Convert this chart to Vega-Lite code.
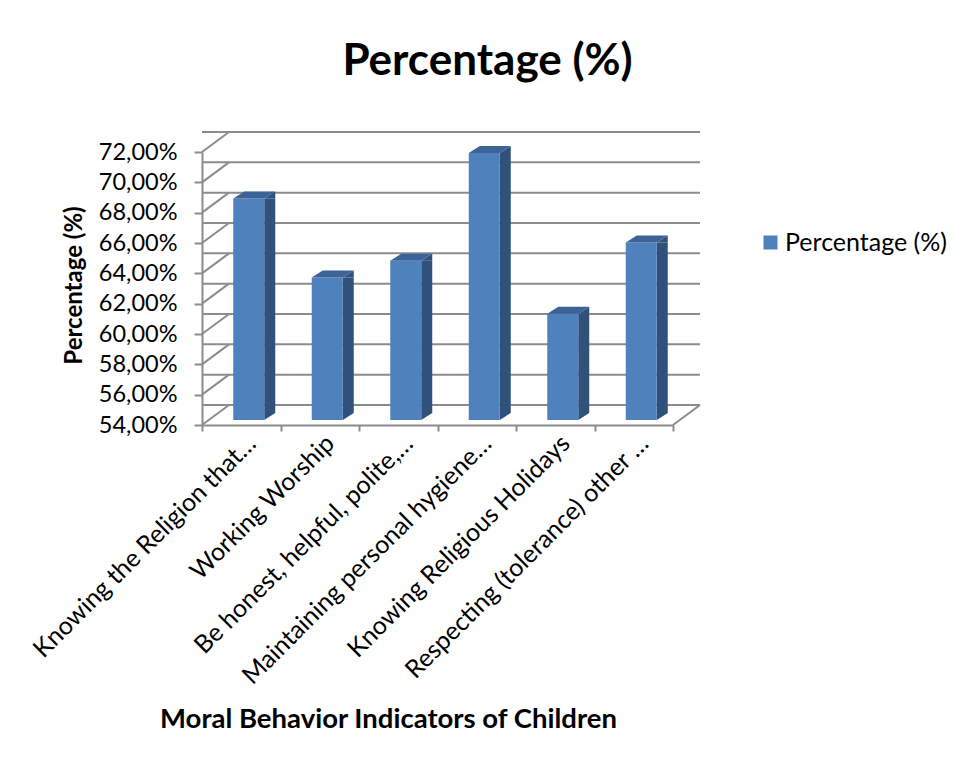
{
  "$schema": "https://vega.github.io/schema/vega-lite/v6.json",
  "autosize": "none",
  "width": 471,
  "height": 273,
  "padding": {"left": 202, "top": 152, "right": 284, "bottom": 342},
  "background": "white",
  "config": {
    "font": "Lato",
    "view": {"stroke": null},
    "axis": {"labelFont": "Lato", "titleFont": "Lato", "labelColor": "#000000", "titleColor": "#000000"},
    "axisY": {"tickCount": 10, "labelOverlap": false}
  },
  "title": {
    "text": "Percentage (%)",
    "font": "Lato",
    "fontSize": 44,
    "fontWeight": "bold",
    "color": "#000000",
    "anchor": "middle",
    "frame": "group",
    "dx": 50,
    "baseline": "alphabetic",
    "offset": 12
  },
  "datasets": {
    "scores": [
      {"indicator": "Knowing the Religion that…", "pct": 0.686},
      {"indicator": "Working Worship", "pct": 0.634},
      {"indicator": "Be honest, helpful, polite,…", "pct": 0.645},
      {"indicator": "Maintaining personal hygiene…", "pct": 0.716},
      {"indicator": "Knowing Religious Holidays", "pct": 0.610},
      {"indicator": "Respecting (tolerance) other …", "pct": 0.657}
    ],
    "levels": [
      {"level": 0.54}, {"level": 0.56}, {"level": 0.58}, {"level": 0.60}, {"level": 0.62},
      {"level": 0.64}, {"level": 0.66}, {"level": 0.68}, {"level": 0.70}, {"level": 0.72}
    ]
  },
  "layer": [
    {
      "description": "back-wall gridlines, carrying the value axis",
      "data": {"name": "levels"},
      "mark": {"type": "rule", "color": "#8c8c8c", "strokeWidth": 2, "xOffset": 27, "x2Offset": 27, "yOffset": -20},
      "encoding": {
        "y": {
          "field": "level", "type": "quantitative",
          "scale": {"domain": [0.54, 0.72], "nice": false, "zero": false},
          "axis": {
            "title": "Percentage (%)",
            "titleFontSize": 24, "titleFontWeight": "bold",
            "titleAngle": -90, "titleX": -128, "titleY": 133, "titleAlign": "center", "titleBaseline": "middle",
            "values": [0.54, 0.56, 0.58, 0.60, 0.62, 0.64, 0.66, 0.68, 0.70, 0.72],
            "labelExpr": "replace(format(datum.value, '.2%'), '.', ',')",
            "labelFontSize": 23.5, "labelPadding": 17, "labelOverlap": false,
            "domainColor": "#8c8c8c", "domainWidth": 2,
            "tickColor": "#8c8c8c", "tickWidth": 2, "tickSize": 8,
            "grid": false
          }
        }
      }
    },
    {
      "description": "side-wall connectors from the value axis to the back wall",
      "data": {"name": "levels"},
      "mark": {"type": "rule", "color": "#8c8c8c", "strokeWidth": 2, "x2Offset": 27, "y2Offset": -20},
      "encoding": {
        "x": {"value": 0},
        "x2": {"value": 0},
        "y": {"field": "level", "type": "quantitative"},
        "y2": {"field": "level"}
      }
    },
    {
      "description": "right edge of the floor",
      "data": {"name": "levels"},
      "transform": [{"filter": "datum.level == 0.54"}],
      "mark": {"type": "rule", "color": "#8c8c8c", "strokeWidth": 2, "x2Offset": 27, "y2Offset": -20},
      "encoding": {
        "x": {"value": "width"},
        "x2": {"value": "width"},
        "y": {"field": "level", "type": "quantitative"},
        "y2": {"field": "level"}
      }
    },
    {
      "description": "bar side faces",
      "data": {"name": "scores"},
      "mark": {"type": "bar", "width": 11, "xOffset": 28.5, "yOffset": -5, "y2Offset": -12, "color": "#30517c"},
      "encoding": {
        "x": {"field": "indicator", "type": "nominal", "sort": null, "scale": {"type": "band", "paddingInner": 0, "paddingOuter": 0}},
        "y": {"field": "pct", "type": "quantitative"},
        "y2": {"datum": 0.54}
      }
    },
    {
      "description": "upper corner of the side faces",
      "data": {"name": "scores"},
      "mark": {"type": "point", "shape": "M23,0L34,-7L34,0Z", "size": 4, "filled": true, "opacity": 1, "strokeWidth": 0, "color": "#30517c", "yOffset": -5},
      "encoding": {
        "x": {"field": "indicator", "type": "nominal", "sort": null},
        "y": {"field": "pct", "type": "quantitative"}
      }
    },
    {
      "description": "lower corner of the side faces",
      "data": {"name": "scores"},
      "mark": {"type": "point", "shape": "M23,-7L23,0L34,-7Z", "size": 4, "filled": true, "opacity": 1, "strokeWidth": 0, "color": "#30517c", "yOffset": -5},
      "encoding": {
        "x": {"field": "indicator", "type": "nominal", "sort": null},
        "y": {"datum": 0.54}
      }
    },
    {
      "description": "bar front faces",
      "data": {"name": "scores"},
      "mark": {"type": "bar", "width": 31, "xOffset": 7.5, "yOffset": -5, "y2Offset": -5},
      "encoding": {
        "x": {
          "field": "indicator", "type": "nominal", "sort": null,
          "axis": {
            "title": "Moral Behavior Indicators of Children",
            "titleFontSize": 27.5, "titleFontWeight": "bold",
            "titleX": 186, "titleY": 302, "titleAnchor": null, "titleAlign": "center", "titleBaseline": "alphabetic",
            "labelAngle": -45, "labelAlign": "right", "labelBaseline": "middle",
            "labelFontSize": 25, "labelLimit": 500, "labelPadding": 8, "labelOffset": 10,
            "domainColor": "#8c8c8c", "domainWidth": 2,
            "tickBand": "extent", "tickColor": "#8c8c8c", "tickWidth": 2, "tickSize": 6
          }
        },
        "y": {"field": "pct", "type": "quantitative"},
        "y2": {"datum": 0.54},
        "color": {
          "datum": "Percentage (%)",
          "scale": {"range": ["#4f81bd"]},
          "legend": {
            "title": null, "orient": "none", "legendX": 556, "legendY": 78,
            "symbolType": "square", "symbolSize": 196, "symbolStrokeWidth": 0,
            "labelFont": "Lato", "labelFontSize": 25, "labelColor": "#000000", "labelOffset": 2, "labelLimit": 400, "padding": 0
          }
        }
      }
    },
    {
      "description": "bar top faces",
      "data": {"name": "scores"},
      "mark": {"type": "point", "shape": "M-8,0L23,0L34,-7L3,-7Z", "size": 4, "filled": true, "opacity": 1, "strokeWidth": 0, "color": "#3c6397", "yOffset": -5},
      "encoding": {
        "x": {"field": "indicator", "type": "nominal", "sort": null},
        "y": {"field": "pct", "type": "quantitative"}
      }
    }
  ]
}
